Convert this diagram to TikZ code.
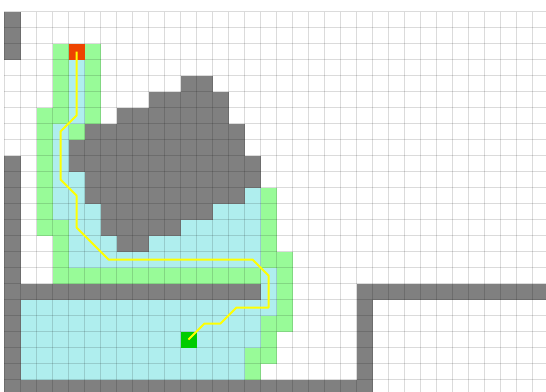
\documentclass[tikz,border=0pt]{standalone}
\definecolor{wallgray}{HTML}{808080}
\definecolor{closedc}{HTML}{AFEEEE}
\definecolor{openc}{HTML}{98FB98}
\definecolor{startc}{HTML}{EE4400}
\definecolor{goalc}{HTML}{00CC00}
\definecolor{routec}{HTML}{FFFF00}

\begin{document}
\begin{tikzpicture}[x=16pt,y=-16pt,
  wall/.style={fill=wallgray},
  closed/.style={fill=closedc},
  open/.style={fill=openc},
  cellbox/.style={minimum size=16pt,inner sep=0pt,outer sep=0pt},
  gridline/.style={draw=black,opacity=0.14,line width=0.9pt},
  route/.style={draw=routec,line width=2pt,line join=round}]
\useasboundingbox (-0.28125,-0.71875) rectangle (33.84375,23.71875);
\clip (-0.28125,-0.71875) rectangle (33.84375,23.71875);
% closed set
\foreach \r/\a/\b in {3/4/4,4/4/4,5/4/4,6/4/4,7/3/3,8/3/3,9/3/3,10/3/4,11/3/4,
    11/15/15,12/3/5,12/13/15,13/4/5,13/11/15,14/4/6,14/9/15,15/4/15,16/16/16,
    17/16/16,18/1/16,19/1/15,20/1/15,21/1/14,22/1/14}
  \fill[closed] (\a,\r) rectangle (\b+1,\r+1);
% open set
\foreach \r/\a/\b in {2/3/3,2/5/5,3/3/3,3/5/5,4/3/3,4/5/5,5/3/3,5/5/5,6/2/3,6/5/5,
    7/2/2,7/4/4,8/2/2,9/2/2,10/2/2,11/2/2,12/2/2,13/2/3,14/3/3,15/3/3,16/3/15,
    16/17/17,11/16/16,12/16/16,13/16/16,14/16/16,15/16/17,17/17/17,18/17/17,
    19/16/17,20/16/16,21/15/16,22/15/15}
  \fill[open] (\a,\r) rectangle (\b+1,\r+1);
% obstacle
\foreach \r/\a/\b in {4/11/12,5/9/13,6/7/13,7/5/14,8/4/14,9/4/15,10/5/15,11/5/14,
    12/6/12,13/6/10,14/7/8}
  \fill[wall] (\a,\r) rectangle (\b+1,\r+1);
% walls
\fill[wall] (0,0) rectangle (1,3);
\fill[wall] (0,9) rectangle (1,24);
\fill[wall] (1,17) rectangle (16,18);
\fill[wall] (1,23) rectangle (23,24);
\fill[wall] (22,17) rectangle (23,23);
\fill[wall] (23,17) rectangle (34,18);
% grid
\foreach \i in {0,...,33}
  \draw[gridline] (\i,0) -- (\i,23.8);
\foreach \j in {0,...,23}
  \draw[gridline] (0,\j) -- (33.9,\j);
% start and goal
\node[cellbox,fill=startc] (start) at (4.5,2.5) {};
\node[cellbox,fill=goalc] (goal) at (11.5,20.5) {};
\draw[route] (start.center) -- (4.5,6.5) -- (3.5,7.5) -- (3.5,10.5) -- (4.5,11.5)
  -- (4.5,13.5) -- (6.5,15.5) -- (15.5,15.5) -- (16.5,16.5) -- (16.5,18.5)
  -- (14.5,18.5) -- (13.5,19.5) -- (12.5,19.5) -- (goal.center);
\end{tikzpicture}
\end{document}
